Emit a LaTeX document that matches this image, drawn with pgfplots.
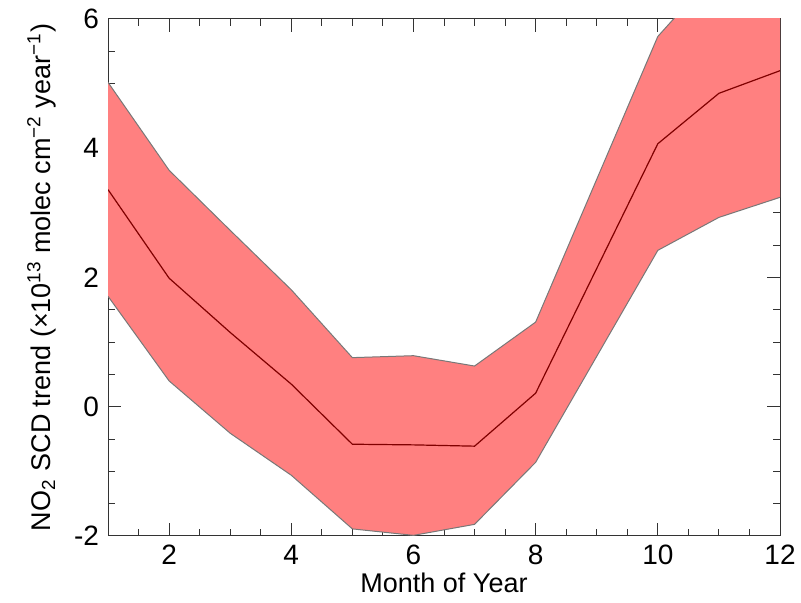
\documentclass[border=0pt]{standalone}
\usepackage{fontspec}
\setmainfont{Liberation Sans}
\usepackage{pgfplots}
\pgfplotsset{compat=1.18}
\usepgfplotslibrary{fillbetween}
\usetikzlibrary{calc}
\usepackage{pgfplotstable}

\definecolor{bandred}{RGB}{255,128,128}
\definecolor{meanred}{RGB}{128,0,0}
\definecolor{edgegray}{RGB}{120,120,120}

% month, upper bound, mean trend, lower bound
\pgfplotstableread{
m   up     mean   lo
1   5.02   3.36   1.71
2   3.66   1.99   0.40
3   2.73   1.15  -0.41
4   1.81   0.35  -1.06
5   0.76  -0.58  -1.89
6   0.79  -0.59  -1.99
7   0.63  -0.61  -1.82
8   1.31   0.21  -0.86
9   3.52   2.14   0.78
10  5.73   4.07   2.42
11  6.78   4.85   2.93
12  7.15   5.20   3.24
}\trend

\begin{document}
\begin{tikzpicture}
\begin{axis}[
    scale only axis,
    width=336pt, height=258.5pt,
    xmin=1, xmax=12, ymin=-2, ymax=6,
    xtick={2,4,...,12},
    ytick={-2,0,...,6},
    minor xtick={1,1.5,...,12},
    minor ytick={-2,-1.5,...,6},
    major tick length=6.7pt,
    minor tick length=3.4pt,
    tick align=inside,
    tick style={black!80, line width=0.5pt},
    axis line style={black!80, line width=0.5pt},
    every tick label/.append style={font=\fontsize{14}{16}\selectfont},
    /pgf/number format/assume math mode=true,
    xticklabel style={yshift=-1pt},
    yticklabel style={xshift=-1pt},
    label style={font=\fontsize{13.5}{16}\selectfont},
    xlabel={Month of Year},
    ylabel={NO\textsubscript{2} SCD trend (×10\textsuperscript{13} molec cm\textsuperscript{−2} year\textsuperscript{−1})},
    xlabel style={yshift=3pt},
    ylabel style={yshift=2pt},
]
\addplot[name path=up, draw=edgegray, line width=0.5pt] table[x=m, y=up] {\trend};
\addplot[name path=lo, draw=edgegray, line width=0.5pt] table[x=m, y=lo] {\trend};
\addplot[fill=bandred, draw=none] fill between[of=up and lo];
\addplot[draw=meanred, line width=0.6pt] table[x=m, y=mean] {\trend};
\coordinate (ll) at (rel axis cs:0,0);
\coordinate (ur) at (rel axis cs:1,1);
\end{axis}
\pgfresetboundingbox
\path[use as bounding box] ($(ll)+(-54pt,-33.5pt)$) rectangle ($(ur)+(10.5pt,9.5pt)$);
\end{tikzpicture}
\end{document}
